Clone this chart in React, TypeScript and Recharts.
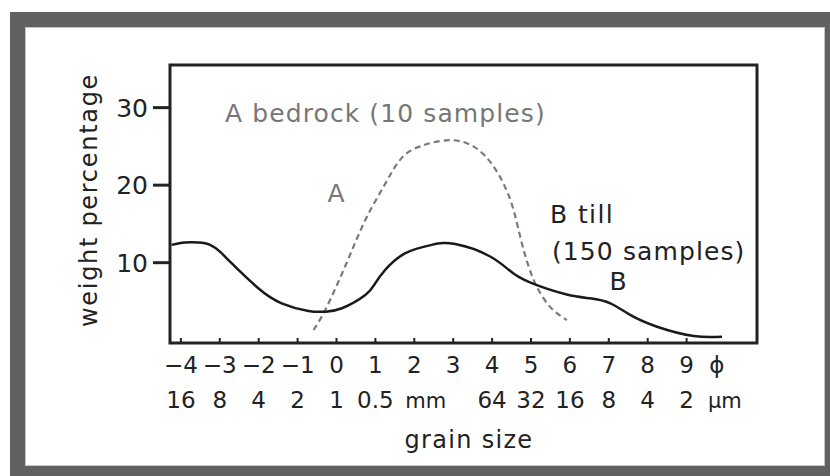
import React from "react";
import { LineChart, Line, XAxis, YAxis, ReferenceArea } from "recharts";

// grain size in phi units and weight percentage
const tillPhi = [-4.24, -3.9, -3.55, -3.25, -2.99, -2.69, -2.01, -1.41, -0.72, -0.29, 0.14, 0.74, 0.99, 1.25, 1.76, 2.45, 3.05, 3.95, 4.55, 5.15, 5.92, 6.52, 7.04, 7.55, 8.24, 9.18, 9.91];
const tillWeight = [12.3, 12.6, 12.6, 12.3, 11.4, 9.9, 6.7, 4.76, 3.77, 3.68, 4.12, 5.83, 7.3, 9.06, 11.2, 12.3, 12.4, 10.8, 8.6, 7.1, 5.9, 5.4, 4.76, 3.26, 1.74, 0.54, 0.45];

const bedrockPhi = [-0.59, -0.29, 0.22, 0.74, 1.21, 1.64, 2.15, 2.88, 3.52, 4.04, 4.47, 4.72, 4.94, 5.15, 5.49, 5.92];
const bedrockWeight = [1.32, 3.9, 9.5, 15.5, 19.8, 23.3, 25.0, 25.8, 25.0, 22.4, 18.1, 13.4, 9.5, 6.9, 4.3, 2.6];

const phiTicks = [-4, -3, -2, -1, 0, 1, 2, 3, 4, 5, 6, 7, 8, 9, 9.78];
const phiLabels = ["−4", "−3", "−2", "−1", "0", "1", "2", "3", "4", "5", "6", "7", "8", "9", "ϕ"];
const sizeLabels = ["16", "8", "4", "2", "1", "0.5", "mm", "", "64", "32", "16", "8", "4", "2", "μm"];
const weightTicks = [10, 20, 30];

const xDomain = [-4.28, 10.81];
const yDomain = [-0.36, 35.5];

const tillData = tillPhi.map((phi, i) => ({ phi, weight: tillWeight[i] }));
const bedrockData = bedrockPhi.map((phi, i) => ({ phi, weight: bedrockWeight[i] }));

const FONT = "'DejaVu Sans', sans-serif";

const GrainTick = (props: any) => {
  const { x, y, payload } = props;
  const i = phiTicks.indexOf(payload.value);
  const isUnit = i === phiTicks.length - 1;
  const second = sizeLabels[i];
  const startAligned = second === "mm" || second === "μm";
  return (
    <g>
      {!isUnit && <line x1={x} y1={y} x2={x} y2={y - 5} stroke="#222" strokeWidth={2} />}
      <text x={x} y={y + 30} textAnchor="middle" fontSize={23} fill="#222" fontFamily={FONT}>
        {phiLabels[i]}
      </text>
      {startAligned ? (
        <text x={x - 9} y={y + 65} textAnchor="start" fontSize={21} fill="#222" fontFamily={FONT}>
          {second}
        </text>
      ) : (
        <text x={x} y={y + 65} textAnchor="middle" fontSize={23} fill="#222" fontFamily={FONT}>
          {second}
        </text>
      )}
    </g>
  );
};

export default function App() {
  return (
    <div style={{ position: "absolute", left: 0, top: 0, width: 830, height: 476, background: "#fff" }}>
      {/* grey frame */}
      <div style={{ position: "absolute", left: 10, top: 12, width: 820, height: 464, background: "#616161" }} />
      <div
        style={{
          position: "absolute",
          left: 25,
          top: 27,
          width: 798,
          height: 437,
          background: "#fff",
          border: "1px solid #c4c4c4",
        }}
      />
      <div style={{ position: "absolute", left: 0, top: 0 }}>
        <LineChart width={830} height={476} margin={{ top: 65, right: 73, bottom: 103, left: 110 }}>
          <XAxis
            dataKey="phi"
            type="number"
            domain={xDomain}
            allowDataOverflow
            ticks={phiTicks}
            interval={0}
            height={30}
            tickSize={0}
            tickMargin={0}
            axisLine={false}
            tickLine={false}
            tick={<GrainTick />}
          />
          <YAxis
            type="number"
            domain={yDomain}
            allowDataOverflow
            ticks={weightTicks}
            width={60}
            axisLine={false}
            tickSize={17}
            tickMargin={5}
            tickLine={{ stroke: "#222", strokeWidth: 3 }}
            tick={{ fontSize: 25, fill: "#222", fontFamily: FONT }}
          />
          <ReferenceArea
            x1={xDomain[0]}
            x2={xDomain[1]}
            y1={yDomain[0]}
            y2={yDomain[1]}
            fill="none"
            stroke="#222"
            strokeWidth={3}
            ifOverflow="visible"
          />
          <Line
            data={bedrockData}
            dataKey="weight"
            type="natural"
            stroke="#7a7a7a"
            strokeWidth={2.2}
            strokeDasharray="6 4"
            dot={false}
            isAnimationActive={false}
          />
          <Line
            data={tillData}
            dataKey="weight"
            type="natural"
            stroke="#1a1a1a"
            strokeWidth={2.5}
            dot={false}
            isAnimationActive={false}
          />
        </LineChart>
      </div>
      {/* annotations and axis titles */}
      <svg width={830} height={476} style={{ position: "absolute", left: 0, top: 0, pointerEvents: "none" }}>
        <g fontFamily={FONT} fontSize={25}>
          <text x={225} y={122} fill="#777" letterSpacing={1.1}>A bedrock (10 samples)</text>
          <text x={336} y={202} fill="#777" textAnchor="middle">A</text>
          <text x={550} y={223} fill="#222" letterSpacing={1.4}>B till</text>
          <text x={552} y={260} fill="#222" letterSpacing={1.1}>(150 samples)</text>
          <text x={618} y={290} fill="#222" textAnchor="middle">B</text>
        </g>
        <text x={469} y={448} fill="#222" fontFamily={FONT} fontSize={24} textAnchor="middle" letterSpacing={1.3}>
          grain size
        </text>
        <text
          x={97}
          y={200}
          fill="#222"
          fontFamily={FONT}
          fontSize={24}
          textAnchor="middle"
          letterSpacing={1.7}
          transform="rotate(-90, 97, 200)"
        >
          weight percentage
        </text>
      </svg>
    </div>
  );
}
